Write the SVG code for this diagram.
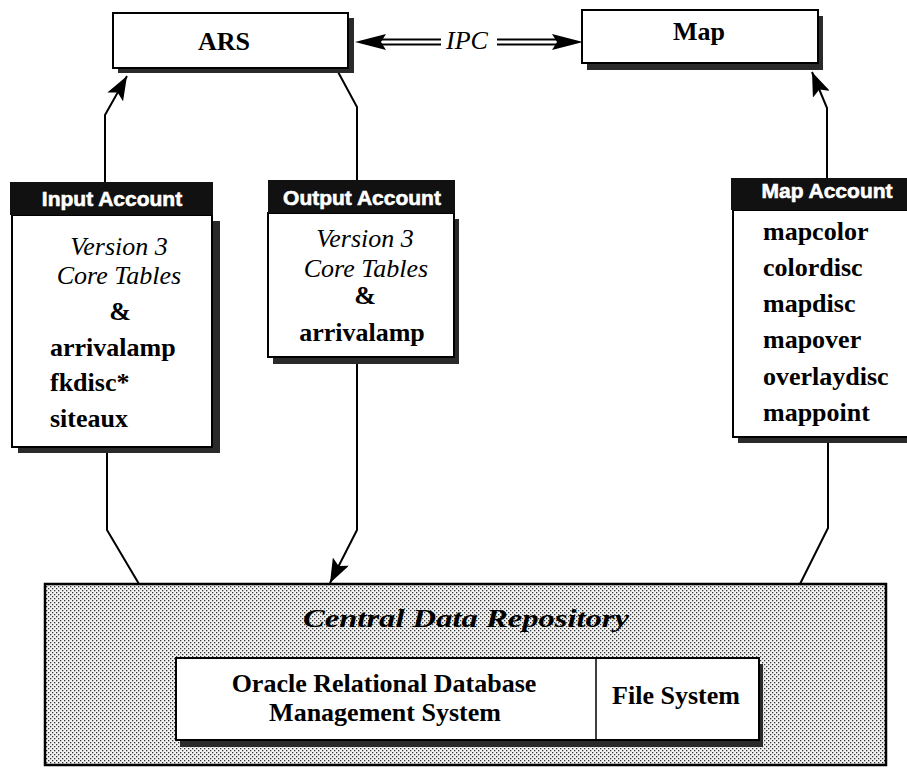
<svg xmlns="http://www.w3.org/2000/svg" width="907" height="768" viewBox="0 0 907 768">
<style>
.box{fill:#fff;stroke:#000;stroke-width:2}
.shadow{fill:#2a2a2a}
.hdr{fill:#111}
.hdrtxt{font-family:"Liberation Sans",Arial,sans-serif;font-weight:bold;font-size:21px;fill:#fff;stroke:#fff;stroke-width:0.6;text-anchor:middle}
.t{font-family:"Liberation Serif","Times New Roman",serif;font-size:26px;fill:#000}
.b{font-weight:bold}
.i{font-style:italic}
.c{text-anchor:middle}
.ln{fill:none;stroke:#000;stroke-width:2}
.arrow{marker-end:url(#ah)}
</style>
<defs>
<marker id="ah" viewBox="0 0 24 18" refX="24" refY="9" markerWidth="24" markerHeight="18" markerUnits="userSpaceOnUse" orient="auto">
<path d="M0,0 L24,9 L0,18 L5,9 Z" fill="#000"/>
</marker>
<pattern id="stipple" width="4" height="4" patternUnits="userSpaceOnUse">
<rect width="4" height="4" fill="#f4f4f4"/>
<rect x="0" y="0" width="1.3" height="1.3" fill="#333"/>
<rect x="2" y="2" width="1.3" height="1.3" fill="#333"/>
</pattern>
</defs>

<g id="connectors">
<path class="ln arrow" d="M105,182 V115 L127,76"/>
<path class="ln" d="M337,70 L357,107 V180"/>
<path class="ln arrow" d="M357,363 V530 L330,583"/>
<path class="ln" d="M107,453 V530 L139,584"/>
<path class="ln arrow" d="M827,178 V108 L812,72"/>
<path class="ln" d="M828,442 V528 L800,584"/>
<g id="ipc">
<line x1="380" y1="39.5" x2="441" y2="39.5" stroke="#000" stroke-width="1.8"/>
<line x1="380" y1="44.5" x2="441" y2="44.5" stroke="#000" stroke-width="1.8"/>
<polygon points="355,42 386,34 381,42 386,50" fill="#000"/>
<line x1="497" y1="39.5" x2="562" y2="39.5" stroke="#000" stroke-width="1.8"/>
<line x1="497" y1="44.5" x2="562" y2="44.5" stroke="#000" stroke-width="1.8"/>
<polygon points="583,42 552,34 557,42 552,50" fill="#000"/>
<text class="t i" x="467" y="49" text-anchor="middle" font-size="25">IPC</text>
</g>
</g>

<g id="ars">
<rect class="shadow" x="118" y="18" width="236" height="55"/>
<rect class="box" x="113" y="13" width="235" height="55"/>
<text class="t b c" x="224" y="50" font-size="25">ARS</text>
</g>

<g id="map">
<rect class="shadow" x="587" y="16" width="236" height="54"/>
<rect class="box" x="582" y="10" width="236" height="53"/>
<text class="t b c" x="699" y="40" font-size="23">Map</text>
</g>

<g id="input-account">
<rect class="shadow" x="18" y="221" width="202" height="232"/>
<rect class="box" x="12" y="215" width="200" height="232"/>
<rect class="hdr" x="10" y="182" width="203" height="33"/>
<text class="hdrtxt" x="112" y="206">Input Account</text>
<text class="t i c" x="119" y="255">Version 3</text>
<text class="t i c" x="119" y="284">Core Tables</text>
<text class="t b c" x="120" y="320">&amp;</text>
<text class="t b" x="50" y="356">arrivalamp</text>
<text class="t b" x="50" y="391">fkdisc*</text>
<text class="t b" x="50" y="427">siteaux</text>
</g>

<g id="output-account">
<rect class="shadow" x="273" y="219" width="186" height="145"/>
<rect class="box" x="268" y="213" width="186" height="144"/>
<rect class="hdr" x="268" y="180" width="187" height="33"/>
<text class="hdrtxt" x="362" y="205">Output Account</text>
<text class="t i c" x="365" y="247">Version 3</text>
<text class="t i c" x="366" y="277">Core Tables</text>
<text class="t b c" x="365" y="304">&amp;</text>
<text class="t b c" x="362" y="341">arrivalamp</text>
</g>

<g id="map-account">
<rect class="shadow" x="738" y="216" width="180" height="227"/>
<rect class="box" x="733" y="210" width="180" height="227"/>
<rect class="hdr" x="731" y="178" width="180" height="32"/>
<text class="hdrtxt" x="827" y="198">Map Account</text>
<text class="t b" x="763" y="240">mapcolor</text>
<text class="t b" x="763" y="276">colordisc</text>
<text class="t b" x="763" y="312">mapdisc</text>
<text class="t b" x="763" y="348">mapover</text>
<text class="t b" x="763" y="385">overlaydisc</text>
<text class="t b" x="763" y="421">mappoint</text>
</g>

<g id="central-data-repository">
<rect x="45" y="584" width="841" height="181" fill="url(#stipple)" stroke="#000" stroke-width="2.5"/>
<text class="t b i c" x="466" y="627" font-size="28" textLength="326" lengthAdjust="spacingAndGlyphs">Central Data Repository</text>
<g id="oracle-file-system">
<rect class="shadow" x="180" y="664" width="583" height="83"/>
<rect class="box" x="176" y="658" width="583" height="82"/>
<line x1="596" y1="658" x2="596" y2="740" stroke="#000" stroke-width="1.5"/>
<text class="t b c" x="384" y="692">Oracle Relational Database</text>
<text class="t b c" x="385" y="721">Management System</text>
<text class="t b c" x="676" y="704">File System</text>
</g>
</g>
</svg>
